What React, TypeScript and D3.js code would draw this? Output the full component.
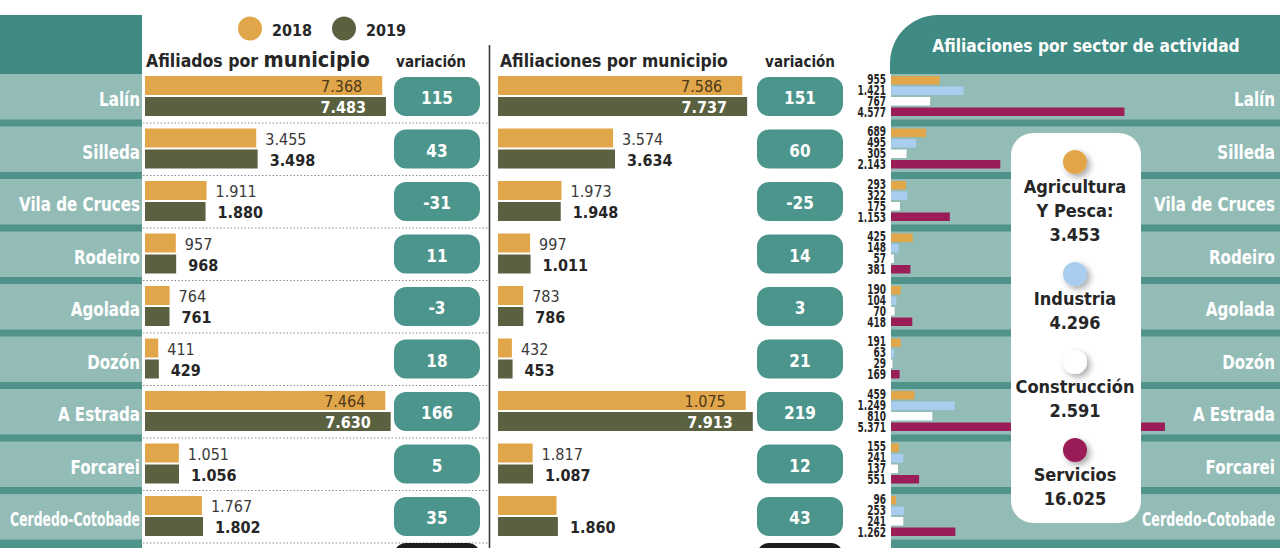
import React, { useEffect, useRef } from 'react';
import * as d3 from 'd3';

// ---------- DATA ----------
const municipios = ['Lalín', 'Silleda', 'Vila de Cruces', 'Rodeiro', 'Agolada', 'Dozón', 'A Estrada', 'Forcarei', 'Cerdedo-Cotobade'];
const years = ['2018', '2019'];
const afiliados2018 = [7368, 3455, 1911, 957, 764, 411, 7464, 1051, 1767];
const afiliados2019 = [7483, 3498, 1880, 968, 761, 429, 7630, 1056, 1802];
const variacionAfiliados = [115, 43, -31, 11, -3, 18, 166, 5, 35];
const afiliaciones2018 = [7586, 3574, 1973, 997, 783, 432, 7694, 1075, 1817];
// labels as printed in the original graphic
const afiliaciones2018Labels = ['7.586', '3.574', '1.973', '997', '783', '432', '1.075', '1.817', ''];
const afiliaciones2019 = [7737, 3634, 1948, 1011, 786, 453, 7913, 1087, 1860];
const variacionAfiliaciones = [151, 60, -25, 14, 3, 21, 219, 12, 43];
const sectorNames = [['Agricultura', 'Y Pesca:'], ['Industria'], ['Construcción'], ['Servicios']];
const sectorTotals = [3453, 4296, 2591, 16025];
const agricultura = [955, 689, 293, 425, 190, 191, 459, 155, 96];
const industria = [1421, 495, 322, 148, 104, 63, 1249, 241, 253];
const construccion = [767, 305, 175, 57, 70, 29, 810, 137, 241];
const servicios = [4577, 2143, 1153, 381, 418, 169, 5371, 551, 1262];

// ---------- STYLE ----------
const C = {
  header: '#3f8a82',
  band: '#93bcb7',
  stripe: '#4f938b',
  pill: '#4b958d',
  orange: '#e2a64a',
  olive: '#5a6141',
  blue: '#a8cdee',
  white: '#ffffff',
  magenta: '#9a1d57',
  text: '#262626',
  text2: '#3a3a3a',
  dark: '#1e1e1e',
};
const sectorColors = [C.orange, C.blue, C.white, C.magenta];
const FONT = "'DejaVu Sans Condensed', 'DejaVu Sans', sans-serif";

const locale = d3.formatLocale({ decimal: ',', thousands: '.', grouping: [3], currency: ['', '€'], minus: '-' });
const fmt = locale.format(',d');

export default function App() {
  const ref = useRef<SVGSVGElement>(null);

  useEffect(() => {
    const svg = d3.select(ref.current);
    svg.selectAll('*').remove();
    svg.attr('font-family', FONT);

    const defs = svg.append('defs');
    const f = defs.append('filter').attr('id', 'sh').attr('x', '-60%').attr('y', '-60%').attr('width', '220%').attr('height', '220%');
    f.append('feDropShadow').attr('dx', 3).attr('dy', 3).attr('stdDeviation', 3).attr('flood-color', '#000').attr('flood-opacity', 0.35);

    const n = municipios.length;
    const rowY = d3.scaleLinear().domain([0, 1]).range([74, 126.5]);
    const bandH = 45.5;

    const xL = d3.scaleLinear().domain([0, 8000]).range([145, 145 + 8000 * 0.0322]);
    const xM = d3.scaleLinear().domain([0, 8000]).range([498, 498 + 8000 * 0.0322]);
    const xR = d3.scaleLinear().domain([0, 6000]).range([891, 891 + 6000 * 0.051]);

    // ---------- backgrounds ----------
    svg.append('rect').attr('x', 0).attr('y', 15).attr('width', 142).attr('height', 59).attr('fill', C.header);
    svg.append('rect').attr('x', 0).attr('y', 74).attr('width', 142).attr('height', 474).attr('fill', C.stripe);
    svg.append('path').attr('d', 'M890,74 V63 A48,48 0 0 1 938,15 H1280 V74 Z').attr('fill', C.header);
    svg.append('rect').attr('x', 891).attr('y', 74).attr('width', 389).attr('height', 474).attr('fill', C.stripe);

    const rows = d3.range(n);
    svg.selectAll('rect.bandL').data(rows).join('rect')
      .attr('x', 0).attr('y', (i) => rowY(i)).attr('width', 142).attr('height', bandH).attr('fill', C.band);
    svg.selectAll('rect.bandR').data(rows).join('rect')
      .attr('x', 891).attr('y', (i) => rowY(i)).attr('width', 389).attr('height', bandH).attr('fill', C.band);

    // dotted separators in left panel
    svg.selectAll('line.dot').data(d3.range(1, n + 1)).join('line')
      .attr('x1', 143).attr('x2', 488)
      .attr('y1', (i) => rowY(i) - 3.5).attr('y2', (i) => rowY(i) - 3.5)
      .attr('stroke', '#8c8c8c').attr('stroke-width', 1.2).attr('stroke-dasharray', '1.5,2');

    // vertical divider
    svg.append('line').attr('x1', 489.5).attr('x2', 489.5).attr('y1', 45).attr('y2', 548)
      .attr('stroke', '#3a3a3a').attr('stroke-width', 1.6);

    // helper for condensed labels
    const fitLabel = (x: number, y: number, txt: string, maxW: number, fill: string) => {
      const g = svg.append('g');
      const t = g.append('text').attr('text-anchor', 'end').attr('font-weight', 'bold')
        .attr('font-size', 20).attr('fill', fill).text(txt);
      const len = (t.node() as SVGTextElement).getComputedTextLength();
      const s = Math.min(0.84, maxW / len);
      g.attr('transform', `translate(${x},${y}) scale(${s},1)`);
    };

    // row labels
    rows.forEach((i) => {
      fitLabel(140, rowY(i) + 32, municipios[i], 130, '#ffffff');
      fitLabel(1275, rowY(i) + 32, municipios[i], 133, '#ffffff');
    });

    // ---------- top legend ----------
    const legX = d3.scalePoint().domain(years).range([250, 344]);
    years.forEach((y, k) => {
      svg.append('circle').attr('cx', legX(y)!).attr('cy', 28.5).attr('r', 12).attr('fill', k === 0 ? C.orange : C.olive);
      svg.append('text').attr('x', legX(y)! + 22).attr('y', 36).attr('font-size', 16).attr('font-weight', 'bold')
        .attr('fill', C.text).text(y);
    });

    // ---------- headers ----------
    const h1 = svg.append('text').attr('x', 146).attr('y', 67).attr('font-weight', 'bold').attr('fill', C.text);
    h1.append('tspan').attr('font-size', 17.5).text('Afiliados por ');
    h1.append('tspan').attr('font-size', 21.5).text('municipio');
    svg.append('text').attr('x', 431).attr('y', 67).attr('text-anchor', 'middle').attr('font-size', 15).attr('font-weight', 'bold')
      .attr('fill', C.text).text('variación');
    svg.append('text').attr('x', 500).attr('y', 67).attr('font-size', 17.4).attr('font-weight', 'bold')
      .attr('fill', C.text).text('Afiliaciones por municipio');
    svg.append('text').attr('x', 800).attr('y', 67).attr('text-anchor', 'middle').attr('font-size', 15).attr('font-weight', 'bold')
      .attr('fill', C.text).text('variación');
    svg.append('text').attr('x', 1086).attr('y', 52).attr('text-anchor', 'middle').attr('font-size', 17.2).attr('font-weight', 'bold')
      .attr('fill', '#ffffff').text('Afiliaciones por sector de actividad');

    // ---------- bar panels ----------
    const panel = (
      x: d3.ScaleLinear<number, number>,
      v18: number[], v19: number[], lab18: string[], vari: number[], pillX: number,
    ) => {
      rows.forEach((i) => {
        const y0 = rowY(i);
        svg.append('rect').attr('x', x(0)).attr('y', y0 + 2).attr('width', x(v18[i]) - x(0)).attr('height', 19).attr('fill', C.orange);
        svg.append('rect').attr('x', x(0)).attr('y', y0 + 23).attr('width', x(v19[i]) - x(0)).attr('height', 19).attr('fill', C.olive);
        const in18 = v18[i] > 6000;
        const in19 = v19[i] > 6000;
        svg.append('text')
          .attr('x', in18 ? x(v18[i]) - 20 : x(v18[i]) + 9).attr('y', y0 + 18)
          .attr('text-anchor', in18 ? 'end' : 'start')
          .attr('font-size', 16).attr('fill', in18 ? '#4a3818' : C.text2).text(lab18[i]);
        svg.append('text')
          .attr('x', in19 ? x(v19[i]) - 20 : x(v19[i]) + 12).attr('y', y0 + 39)
          .attr('text-anchor', in19 ? 'end' : 'start')
          .attr('font-size', 16).attr('font-weight', 'bold').attr('fill', in19 ? '#ffffff' : C.text).text(fmt(v19[i]));
        svg.append('rect').attr('x', pillX).attr('y', y0 + 3).attr('width', 86).attr('height', 39).attr('rx', 12)
          .attr('fill', C.pill);
        svg.append('text').attr('x', pillX + 43).attr('y', y0 + 30).attr('text-anchor', 'middle')
          .attr('font-size', 17).attr('font-weight', 'bold').attr('fill', '#ffffff').text(fmt(vari[i]));
      });
    };
    panel(xL, afiliados2018, afiliados2019, afiliados2018.map((v) => fmt(v)), variacionAfiliados, 394);
    panel(xM, afiliaciones2018, afiliaciones2019, afiliaciones2018Labels, variacionAfiliaciones, 757);

    // totals row pills (cut off at the bottom edge)
    [394, 757].forEach((px) => {
      svg.append('rect').attr('x', px).attr('y', rowY(n) - 3.5).attr('width', 86).attr('height', 39).attr('rx', 12).attr('fill', C.dark);
    });

    // ---------- sector panel ----------
    const sectors = [agricultura, industria, construccion, servicios];
    rows.forEach((i) => {
      const y0 = rowY(i);
      sectors.forEach((arr, k) => {
        svg.append('rect').attr('x', xR(0)).attr('y', y0 + 2 + k * 10.5).attr('width', xR(arr[i]) - xR(0)).attr('height', 8.5)
          .attr('fill', sectorColors[k]);
        svg.append('text').attr('transform', `translate(886,${y0 + 9.5 + k * 11}) scale(0.74,1)`)
          .attr('text-anchor', 'end').attr('font-size', 13.5).attr('font-weight', 'bold').attr('fill', C.text)
          .text(fmt(arr[i]));
      });
    });

    // legend box
    svg.append('rect').attr('x', 1011).attr('y', 133).attr('width', 130).attr('height', 390).attr('rx', 22).attr('fill', '#ffffff');
    let cy = 162;
    sectorNames.forEach((lines, k) => {
      svg.append('circle').attr('cx', 1075).attr('cy', cy).attr('r', 12).attr('fill', sectorColors[k]).attr('filter', 'url(#sh)');
      let by = cy + 31;
      lines.forEach((ln) => {
        svg.append('text').attr('x', 1075).attr('y', by).attr('text-anchor', 'middle').attr('font-size', 18)
          .attr('font-weight', 'bold').attr('fill', C.text).text(ln);
        by += 24;
      });
      svg.append('text').attr('x', 1075).attr('y', by).attr('text-anchor', 'middle').attr('font-size', 18)
        .attr('font-weight', 'bold').attr('fill', C.text).text(fmt(sectorTotals[k]));
      cy = by + 33;
    });
  }, []);

  return (
    <svg
      ref={ref}
      width={1280}
      height={548}
      style={{ position: 'absolute', left: 0, top: 0, display: 'block', background: '#ffffff' }}
    />
  );
}
